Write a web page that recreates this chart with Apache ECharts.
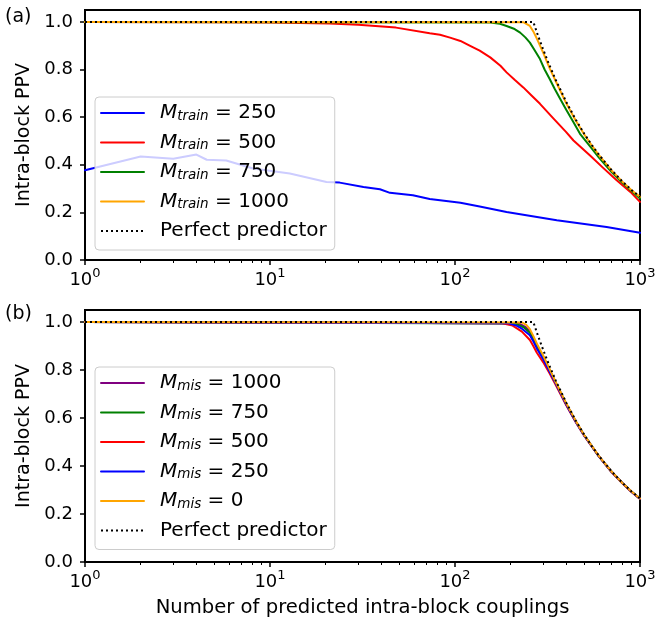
<!DOCTYPE html>
<html><head><meta charset="utf-8">
<script src="https://cdn.jsdelivr.net/npm/echarts@6/dist/echarts.min.js"></script>
<style>html,body{margin:0;padding:0;background:#fff}#c{width:659px;height:621px}</style>
</head><body><div id="c"></div>
<script>
// ---- tick values ----
const xMajorTicks = [1, 10, 100, 1000];
const xMinorTicks = [2,3,4,5,6,7,8,9,20,30,40,50,60,70,80,90,200,300,400,500,600,700,800,900];
const yTicks = [0, 0.2, 0.4, 0.6, 0.8, 1.0];

// ---- panel (a): varying M_train ----
const trainNames = ['M_train = 250', 'M_train = 500', 'M_train = 750', 'M_train = 1000'];
const train250 = [[1,0.377],[2,0.435],[3,0.425],[4,0.443],[4.55,0.421],[5.8,0.418],[8.1,0.384],[12.8,0.363],[20.2,0.328],[23.8,0.325],[32,0.307],[39.3,0.297],[44.5,0.282],[59.2,0.272],[73,0.256],[83,0.251],[107,0.24],[136,0.225],[190,0.202],[355,0.167],[660,0.139],[1000,0.114]];
const train500 = [[1,1.0],[5,0.999],[10,0.997],[21,0.993],[30,0.988],[48,0.976],[73,0.952],[83,0.946],[94,0.934],[107,0.92],[120,0.90],[136,0.879],[155,0.851],[176,0.816],[190,0.788],[210,0.757],[234,0.725],[260,0.69],[288,0.656],[342,0.593],[398,0.538],[437,0.502],[537,0.439],[630,0.388],[748,0.335],[887,0.286],[1000,0.244]];
const train750 = [[1,1.0],[155,0.997],[175,0.992],[190,0.983],[210,0.97],[225,0.955],[240,0.935],[254,0.913],[270,0.88],[288,0.844],[305,0.80],[325,0.76],[345,0.72],[370,0.677],[400,0.63],[437,0.579],[474,0.53],[540,0.475],[600,0.43],[700,0.37],[800,0.325],[900,0.29],[1000,0.258]];
const train1000 = [[1,1.0],[234,0.999],[254,0.983],[265,0.96],[277,0.93],[290,0.895],[300,0.87],[325,0.805],[350,0.752],[400,0.657],[450,0.585],[500,0.527],[550,0.48],[600,0.44],[700,0.377],[800,0.33],[900,0.293],[1000,0.265]];

// ---- panel (b): varying M_mis ----
const misNames = ['M_mis = 1000', 'M_mis = 750', 'M_mis = 500', 'M_mis = 250', 'M_mis = 0'];
const mis1000 = [[1,1.0],[220,0.995],[240,0.98],[254,0.96],[265,0.935],[277,0.905],[300,0.855],[325,0.80],[350,0.748],[400,0.657],[450,0.585],[500,0.527],[600,0.44],[700,0.377],[800,0.33],[900,0.293],[1000,0.264]];
const mis750 = [[1,1.0],[210,0.994],[235,0.978],[254,0.955],[265,0.93],[277,0.90],[300,0.852],[325,0.798],[350,0.747],[400,0.656],[450,0.584],[500,0.527],[600,0.44],[700,0.377],[800,0.33],[900,0.293],[1000,0.264]];
const mis500 = [[1,1.0],[180,0.995],[205,0.985],[230,0.96],[254,0.925],[265,0.9],[277,0.872],[300,0.832],[325,0.785],[350,0.738],[400,0.652],[450,0.582],[500,0.525],[600,0.44],[700,0.376],[800,0.329],[900,0.292],[1000,0.263]];
const mis250 = [[1,1.0],[195,0.995],[215,0.985],[230,0.972],[254,0.945],[265,0.92],[277,0.89],[300,0.845],[325,0.793],[350,0.745],[400,0.655],[450,0.583],[500,0.526],[600,0.44],[700,0.377],[800,0.33],[900,0.293],[1000,0.264]];
const mis0 = [[1,1.0],[230,0.998],[243,0.988],[254,0.97],[265,0.942],[277,0.91],[300,0.86],[325,0.803],[350,0.75],[400,0.66],[450,0.587],[500,0.528],[600,0.441],[700,0.378],[800,0.33],[900,0.294],[1000,0.265]];

// ---- perfect predictor ----
const perfect = [[1,1.0],[265,1.0],[280,0.946],[300,0.883],[320,0.828],[350,0.757],[400,0.663],[450,0.589],[500,0.53],[550,0.482],[600,0.442],[700,0.379],[800,0.331],[900,0.294],[1000,0.265]];

const colorsA = ['#0000ff', '#ff0000', '#008000', '#ffa500'];
const colorsB = ['#800080', '#008000', '#ff0000', '#0000ff', '#ffa500'];

const FONT = 'DejaVu Sans';
const chart = echarts.init(document.getElementById('c'), null, {renderer: 'canvas'});

function xLabelFmt(v) {
  const e = Math.round(Math.log10(v));
  return '{b|10}{s|' + e + '}';
}
const xRich = {
  b: {fontFamily: FONT, fontSize: 18, color: '#000', lineHeight: 22, verticalAlign: 'bottom'},
  s: {fontFamily: FONT, fontSize: 13, color: '#000', lineHeight: 22, verticalAlign: 'top', padding: [0, 0, 8, 0]}
};

function makeX(grid, withName, minor) {
  const ax = {
    gridIndex: grid, type: 'log', logBase: 10, min: 1, max: 1000, position: 'bottom',
    axisLine: {show: false}, splitLine: {show: false}, minorTick: {show: false}
  };
  if (minor) {
    ax.axisTick = {show: true, length: 3, inside: false, customValues: xMinorTicks, lineStyle: {color: '#000', width: 1}};
    ax.axisLabel = {show: false};
  } else {
    ax.axisTick = {show: true, length: 5, inside: false, customValues: xMajorTicks, lineStyle: {color: '#000', width: 1.5}};
    ax.axisLabel = {show: true, customValues: xMajorTicks, formatter: xLabelFmt, rich: xRich, margin: 7, color: '#000'};
  }
  if (withName) {
    ax.name = 'Number of predicted intra-block couplings';
    ax.nameLocation = 'middle';
    ax.nameGap = 36;
    ax.nameTextStyle = {fontFamily: FONT, fontSize: 19.6, color: '#000'};
  }
  return ax;
}
function makeY(grid) {
  return {
    gridIndex: grid, type: 'value', min: 0, max: 1.05,
    axisLine: {show: false}, splitLine: {show: false},
    axisTick: {show: true, length: 5, customValues: yTicks, lineStyle: {color: '#000', width: 1.5}},
    axisLabel: {customValues: yTicks, formatter: v => v.toFixed(1), fontFamily: FONT, fontSize: 18, color: '#000', margin: 12},
    name: 'Intra-block PPV', nameLocation: 'middle', nameGap: 47,
    nameTextStyle: {fontFamily: FONT, fontSize: 19, color: '#000'}
  };
}

function legendFmt(name) {
  const m = name.match(/^M_(\w+) = (.*)$/);
  if (m) return '{g|}{i|M}{s|' + m[1] + '}{t| = ' + m[2] + '}';
  return '{g|}{t|' + name + '}';
}
const legendRich = {
  g: {width: 11},
  i: {fontFamily: FONT, fontStyle: 'italic', fontSize: 20, color: '#000', lineHeight: 20},
  s: {fontFamily: FONT, fontStyle: 'italic', fontSize: 13.5, color: '#000', lineHeight: 20, verticalAlign: 'bottom', padding: [6, 0, 0, 0]},
  t: {fontFamily: FONT, fontSize: 20, color: '#000', lineHeight: 20}
};
function makeLegend(top, data) {
  return {
    orient: 'vertical', left: 95, top: top, data: data,
    itemWidth: 43, itemHeight: 14, itemGap: 9.5,
    padding: [6, 8, 9, 5],
    backgroundColor: 'rgba(255,255,255,0.8)', borderColor: '#cccccc', borderWidth: 1, borderRadius: 4,
    selectedMode: false,
    itemStyle: {opacity: 0},
    formatter: legendFmt,
    textStyle: {fontFamily: FONT, fontSize: 20, color: '#000', lineHeight: 20, rich: legendRich}
  };
}

function lineSeries(name, data, color, xi, yi, dotted) {
  return {
    type: 'line', name: name, data: data, xAxisIndex: xi, yAxisIndex: yi,
    symbol: 'none', showSymbol: false, silent: true, animation: false,
    lineStyle: dotted
      ? {color: color, width: 2, type: [2, 3], cap: 'butt', join: 'miter'}
      : {color: color, width: 2, type: 'solid', join: 'round', cap: 'round'},
    itemStyle: {color: color}
  };
}

const seriesA = [train250, train500, train750, train1000].map((d, i) => lineSeries(trainNames[i], d, colorsA[i], 0, 0, false));
seriesA.push(lineSeries('Perfect predictor', perfect, '#000', 0, 0, true));
const seriesB = [mis1000, mis750, mis500, mis250, mis0].map((d, i) => lineSeries(misNames[i], d, colorsB[i], 2, 1, false));
seriesB.push(lineSeries('Perfect predictor', perfect, '#000', 2, 1, true));

chart.setOption({
  animation: false,
  backgroundColor: '#fff',
  grid: [
    {left: 85, top: 10, width: 555, height: 250, show: true, borderColor: '#000', borderWidth: 2, backgroundColor: 'transparent'},
    {left: 85, top: 310, width: 555, height: 252, show: true, borderColor: '#000', borderWidth: 2, backgroundColor: 'transparent'}
  ],
  xAxis: [makeX(0, false, false), makeX(0, false, true), makeX(1, true, false), makeX(1, false, true)],
  yAxis: [makeY(0), makeY(1)],
  legend: [makeLegend(97, trainNames.concat(['Perfect predictor'])), makeLegend(367, misNames.concat(['Perfect predictor']))],
  graphic: [
    {type: 'text', left: 5, top: 8, style: {text: '(a)', font: '19px "DejaVu Sans"', fill: '#000'}},
    {type: 'text', left: 5, top: 305, style: {text: '(b)', font: '19px "DejaVu Sans"', fill: '#000'}}
  ],
  series: seriesA.concat(seriesB)
});
</script>
</body></html>
